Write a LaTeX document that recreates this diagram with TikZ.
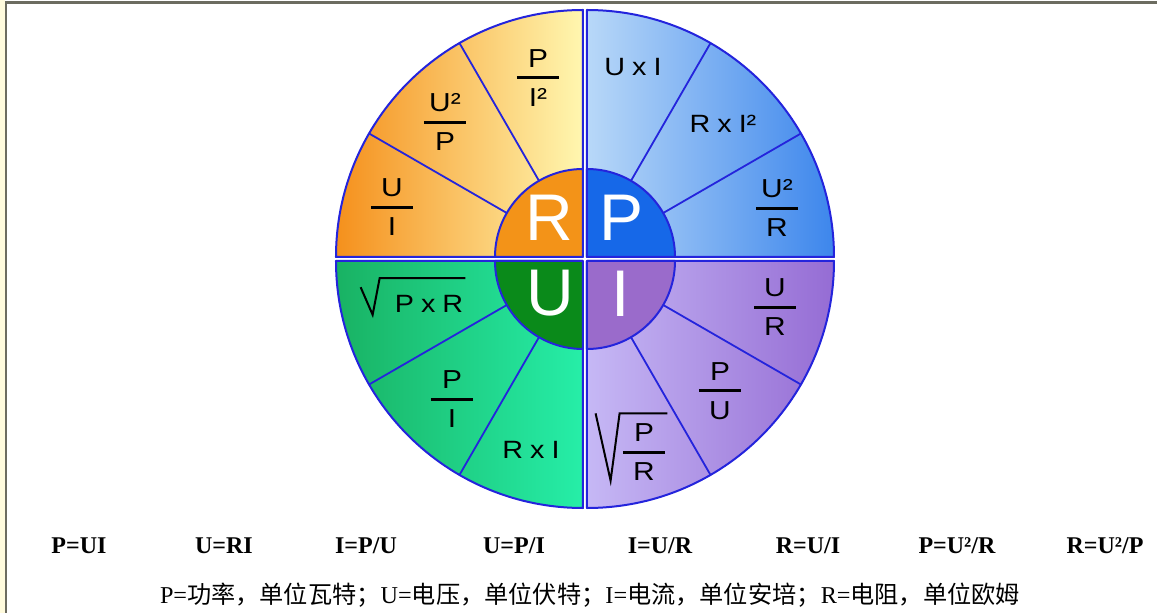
\documentclass[tikz,border=0pt]{standalone}
\usepackage{fontspec}
\setmainfont{Liberation Serif}
\setsansfont{Liberation Sans}
\newfontfamily\wide{Liberation Sans}[FakeStretch=1.15]
\newfontfamily\cjk{Noto Sans CJK SC}
\usetikzlibrary{positioning}
\definecolor{rim}      {HTML}{2424DC}
\definecolor{frameink} {HTML}{6C6C60}
\definecolor{strip}    {HTML}{FFFBDD}
\definecolor{orangeD}  {HTML}{F5901C}
\definecolor{orangeP}  {HTML}{FFF7B0}
\definecolor{blueP}    {HTML}{B8D8F8}
\definecolor{blueD}    {HTML}{3D86EC}
\definecolor{greenD}   {HTML}{19B263}
\definecolor{greenA}   {HTML}{26EEA8}
\definecolor{purpleP}  {HTML}{C6B8F5}
\definecolor{purpleD}  {HTML}{956CD4}
\definecolor{hubR}     {HTML}{F39318}
\definecolor{hubP}     {HTML}{1668E8}
\definecolor{hubU}     {HTML}{0A8A1A}
\definecolor{hubI}     {HTML}{9A6BCB}
% fraction with a fixed bar, and a wide x
\newcommand\fr[2]{{\displaystyle{\hbox to 42pt{\hfil#1\hfil}\above 3pt\hbox to 42pt{\hfil#2\hfil}}}}
\newcommand\tms{\hspace{0.28em}x\hspace{0.28em}}
\tikzset{
  % --- wheel
  rimline/.style = {draw=rim, line width=2pt, line join=round},
  spoke/.style   = {draw=rim, line width=1.8pt},
  surd/.style    = {draw=black, line width=2pt, line join=miter},
  % --- nodes
  hub/.style  = {text=white, font=\sffamily\fontsize{66}{70}\selectfont, inner sep=0pt},
  frm/.style  = {text=black, font=\wide\fontsize{26}{30}\selectfont, inner sep=0pt},
  prod/.style = {frm, font=\wide\fontsize{25}{29}\selectfont},
  law/.style  = {font=\bfseries\fontsize{24}{28}\selectfont, inner sep=0pt},
  note/.style = {font=\fontsize{24.2}{28}\selectfont, inner sep=0pt},
}
\begin{document}
\begin{tikzpicture}[x=1pt,y=1pt]
  \useasboundingbox (-585,-354) rectangle (572,259);
  % frame
  \fill[strip] (-585,-354) rectangle (-580,259);
  \draw[frameink, line width=2pt] (-579,-354) -- (-579,256);
  \draw[frameink, line width=3pt] (-580,256) -- (572,256);
  % quadrants
  \foreach \a/\sx/\sy/\lo/\hi/\hc in {90/-1/1/orangeD/orangeP/hubR,
                                      0/1/1/blueP/blueD/hubP,
                                      180/-1/-1/greenD/greenA/hubU,
                                      270/1/-1/purpleP/purpleD/hubI} {
    \begin{scope}[shift={(2*\sx,2*\sy)}]
      \shade[left color=\lo, right color=\hi]
        (0,0) -- (\a:247pt) arc[start angle=\a, end angle=\a+90, radius=247pt] -- cycle;
      \draw[rimline]
        (0,0) -- (\a:247pt) arc[start angle=\a, end angle=\a+90, radius=247pt] -- cycle;
      \foreach \b in {30,60}
        \draw[spoke] ({\a+\b}:88pt) -- ({\a+\b}:247pt);
      \fill[\hc] (0,0) -- (\a:88pt) arc[start angle=\a, end angle=\a+90, radius=88pt] -- cycle;
      \draw[rimline]
        (0,0) -- (\a:88pt) arc[start angle=\a, end angle=\a+90, radius=88pt] -- cycle;
    \end{scope}
  }
  % hubs
  \node[hub] (hR) at (-36,41) {R};
  \node[hub] (hP) at (37,41) {P};
  \node[hub] (hU) at (-35,-34) {U};
  \node[hub] (hI) at (36,-35) {I};
  % R = ...
  \node[frm] (rPI) at (-47,181) {$\fr{P}{I²}$};
  \node[frm] (rUP) at (-140,137) {$\fr{U²}{P}$};
  \node[frm] (rUI) at (-193,52) {$\fr{U}{I}$};
  % P = ...
  \node[prod] (pUI) at (48,192) {U\tms I};
  \node[prod] (pRI) at (138,135) {R\tms I²};
  \node[frm] (pUR) at (192,51) {$\fr{U²}{R}$};
  % U = ...
  \node[prod] (uPR) at (-156,-45) {P\tms R};
  \draw[surd] ([shift={(-34,8)}]uPR.north west) -- ([shift={(-22,-2)}]uPR.south west)
    -- ([shift={(-15,17)}]uPR.north west) -- ([shift={(2,17)}]uPR.north east);
  \node[frm] (uPI) at (-133,-140) {$\fr{P}{I}$};
  \node[prod] (uRI) at (-54,-191) {R\tms I};
  % I = ...
  \node[frm] (iUR) at (190,-48) {$\fr{U}{R}$};
  \node[frm] (iPU) at (135,-132) {$\fr{P}{U}$};
  \node[frm] (iPR) at (59,-193) {$\fr{P}{R}$};
  \draw[surd] ([shift={(-26,10)}]iPR.north west) -- ([shift={(-11,0)}]iPR.south west)
    -- ([shift={(-2,10)}]iPR.north west) -- ([shift={(1,10)}]iPR.north east);
  % laws
  \foreach \x/\t [count=\k] in {-506/{P=UI}, -361/{U=RI}, -219/{I=P/U}, -71/{U=P/I},
                                75/{I=U/R}, 223/{R=U/I}, 372/{P=U²/R}, 520/{R=U²/P}}
    \node[law] (law\k) at (\x,-287) {\t};
  \node[note] (legend) at (5,-336)
    {P={\cjk 功率，单位瓦特；}U={\cjk 电压，单位伏特；}I={\cjk 电流，单位安培；}R={\cjk 电阻，单位欧姆}};
\end{tikzpicture}
\end{document}
